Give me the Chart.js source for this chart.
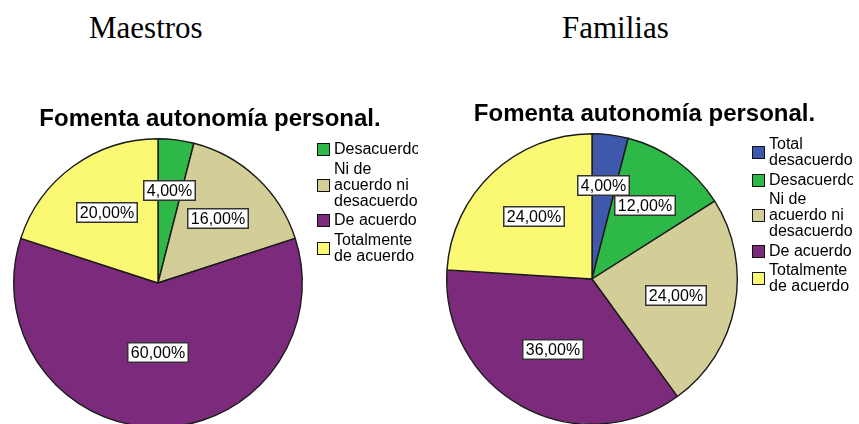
<!DOCTYPE html>
<html>
<head>
<meta charset="utf-8">
<script src="https://cdn.jsdelivr.net/npm/chart.js@4.4.1/dist/chart.umd.min.js"></script>
<style>
html, body { margin: 0; padding: 0; background: #fff; overflow: hidden; width: 859px; height: 424px; }
.head { position: absolute; font-family: "Liberation Serif", "Times New Roman", serif; font-size: 31px; line-height: 31px; color: #000; white-space: nowrap; }
.holder { position: absolute; top: 0; }
</style>
</head>
<body>
<div class="head" style="left:89px; top:12px;">Maestros</div>
<div class="head" style="left:562px; top:12px;">Familias</div>
<div class="holder" style="left:0; width:420px; height:440px;"><canvas id="maestros"></canvas></div>
<div class="holder" style="left:430px; width:429px; height:437px;"><canvas id="familias"></canvas></div>
<script>
var chartTitle = "Fomenta autonomía personal.";

var maestrosLabels = ["Desacuerdo", "Ni de acuerdo ni desacuerdo", "De acuerdo", "Totalmente de acuerdo"];
var maestrosValues = [4, 16, 60, 20];

var familiasLabels = ["Total desacuerdo", "Desacuerdo", "Ni de acuerdo ni desacuerdo", "De acuerdo", "Totalmente de acuerdo"];
var familiasValues = [4, 12, 24, 36, 24];

// SPSS default palette, one colour per answer
var colorByLabel = {
    "Total desacuerdo": "#3E58AC",
    "Desacuerdo": "#2EB848",
    "Ni de acuerdo ni desacuerdo": "#D3CE97",
    "De acuerdo": "#7B2A7C",
    "Totalmente de acuerdo": "#FBF874"
};

var sansFont = "'Liberation Sans', Arial, sans-serif";

function wrapWords(ctx, text, maxWidth) {
    var words = text.split(" ");
    var lines = [];
    var line = "";
    for (var i = 0; i < words.length; i++) {
        var test = line ? line + " " + words[i] : words[i];
        if (line && ctx.measureText(test).width > maxWidth) {
            lines.push(line);
            line = words[i];
        } else {
            line = test;
        }
    }
    if (line) lines.push(line);
    return lines;
}

var spssPie = {
    id: "spssPie",
    afterDatasetsDraw: function(chart) {
        var ctx = chart.ctx;
        var meta = chart.getDatasetMeta(0);
        var data = chart.data.datasets[0].data;
        var total = data.reduce(function(a, b) { return a + b; }, 0);
        ctx.save();
        ctx.font = "16px " + sansFont;
        ctx.textAlign = "center";
        ctx.textBaseline = "middle";
        meta.data.forEach(function(arc, i) {
            var share = data[i] / total;
            var mid = (arc.startAngle + arc.endAngle) / 2;
            var r = arc.outerRadius * (0.66 - 0.3 * share);
            var x = arc.x + Math.cos(mid) * r;
            var y = arc.y + Math.sin(mid) * r;
            var text = data[i].toFixed(2).replace(".", ",") + "%";
            var w = Math.round(ctx.measureText(text).width) + 8;
            var h = 21;
            var bx = Math.round(x - w / 2);
            var by = Math.round(y - h / 2);
            ctx.fillStyle = "#fff";
            ctx.fillRect(bx, by, w, h);
            ctx.strokeStyle = "#333";
            ctx.lineWidth = 1.5;
            ctx.strokeRect(bx + 0.75, by + 0.75, w - 1.5, h - 1.5);
            ctx.fillStyle = "#000";
            ctx.fillText(text, bx + w / 2, by + h / 2 + 1);
        });
        ctx.restore();
    },
    afterDraw: function(chart) {
        var ctx = chart.ctx;
        var area = chart.chartArea;
        ctx.save();
        // title
        ctx.font = "bold 24px " + sansFont;
        ctx.fillStyle = "#000";
        ctx.textAlign = "center";
        ctx.textBaseline = "alphabetic";
        ctx.fillText(chartTitle, chart.width / 2, area.top - 12);

        // legend on the right, text wraps and is clipped like SPSS
        var boxX = area.right + 14;
        var textX = boxX + 17;
        var maxW = 84;
        var lineH = 16;
        var gap = 3.5;
        var y = area.top + 11;
        ctx.font = "16px " + sansFont;
        ctx.textAlign = "left";
        ctx.textBaseline = "middle";
        var labels = chart.data.labels;
        var colors = chart.data.datasets[0].backgroundColor;
        for (var i = 0; i < labels.length; i++) {
            var lines = wrapWords(ctx, labels[i], maxW);
            var midY = y + (lines.length - 1) * lineH / 2;
            ctx.fillStyle = colors[i];
            ctx.fillRect(boxX, Math.round(midY - 6), 13, 13);
            ctx.strokeStyle = "#111";
            ctx.lineWidth = 1;
            ctx.strokeRect(boxX + 0.5, Math.round(midY - 6) + 0.5, 12, 12);
            ctx.save();
            ctx.beginPath();
            ctx.rect(textX - 1, y - lineH, maxW + 1, lines.length * lineH + lineH);
            ctx.clip();
            ctx.fillStyle = "#000";
            for (var j = 0; j < lines.length; j++) {
                ctx.fillText(lines[j], textX, y + j * lineH + 1);
            }
            ctx.restore();
            y += lines.length * lineH + gap;
        }
        ctx.restore();
    }
};

function makePie(canvasId, labels, values, padding) {
    return new Chart(document.getElementById(canvasId), {
        type: "pie",
        data: {
            labels: labels,
            datasets: [{
                data: values,
                backgroundColor: labels.map(function(l) { return colorByLabel[l]; }),
                borderColor: "#1a1a1a",
                borderWidth: 1.4,
                hoverOffset: 0
            }]
        },
        options: {
            responsive: true,
            maintainAspectRatio: false,
            animation: false,
            events: [],
            layout: { padding: padding },
            plugins: {
                legend: { display: false },
                title: { display: false },
                tooltip: { enabled: false }
            }
        },
        plugins: [spssPie]
    });
}

makePie("maestros", maestrosLabels, maestrosValues, { top: 138, left: 13, right: 117, bottom: 12 });
makePie("familias", familiasLabels, familiasValues, { top: 133, left: 16, right: 121, bottom: 12 });
</script>
</body>
</html>
